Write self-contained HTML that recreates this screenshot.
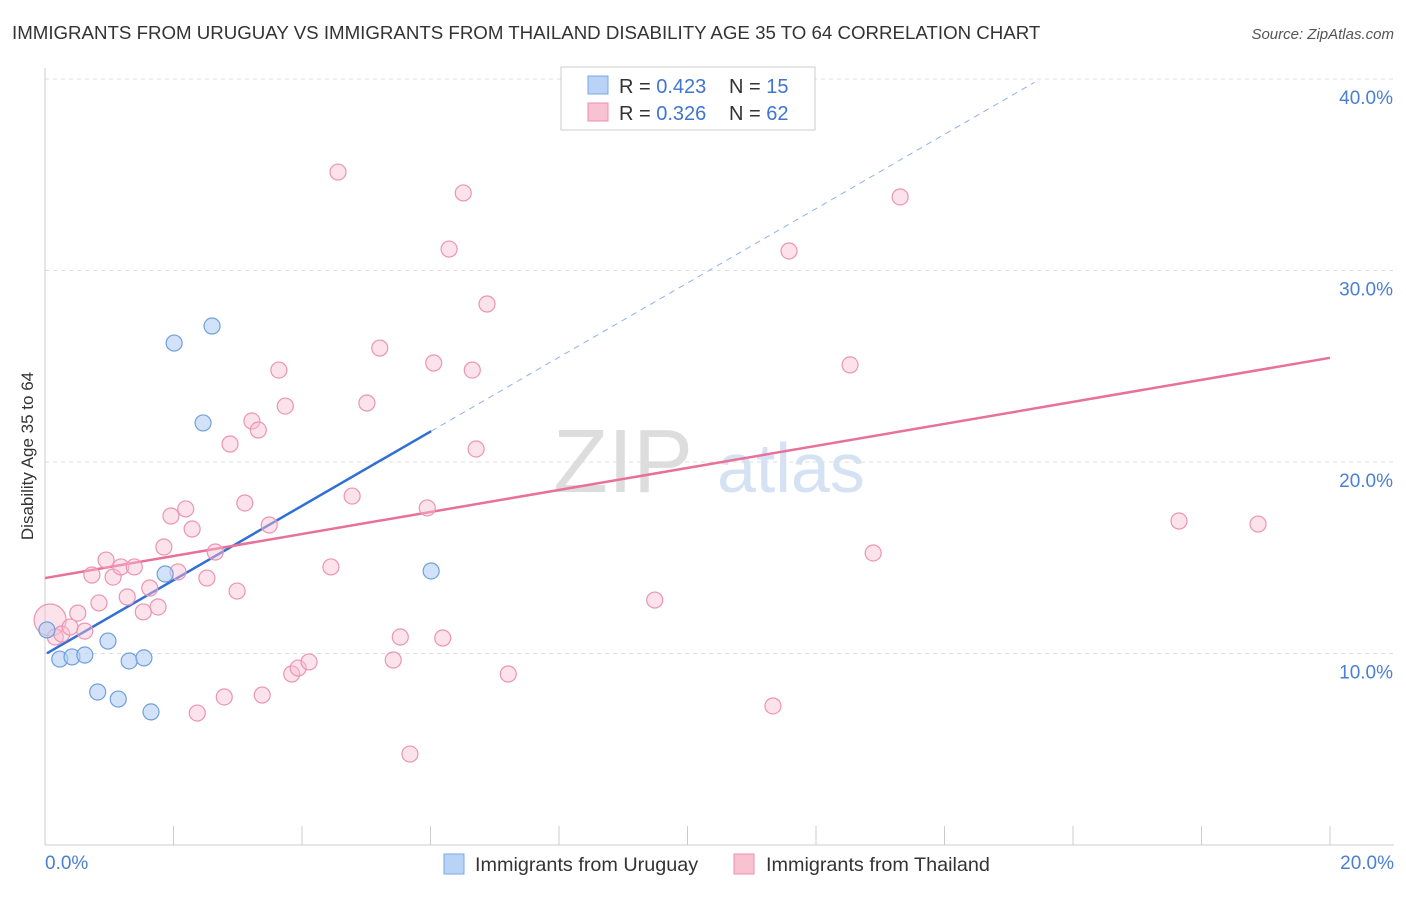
<!DOCTYPE html>
<html><head><meta charset="utf-8"><style>
body{margin:0;background:#fff;font-family:"Liberation Sans",sans-serif;}
svg text{font-family:"Liberation Sans",sans-serif;}
</style></head><body>
<svg id="chart" width="1406" height="892" xmlns="http://www.w3.org/2000/svg">
<text x="12" y="39" font-size="18.7" fill="#333">IMMIGRANTS FROM URUGUAY VS IMMIGRANTS FROM THAILAND DISABILITY AGE 35 TO 64 CORRELATION CHART</text>
<text x="1394" y="39" font-size="15" fill="#555" text-anchor="end" font-style="italic">Source: ZipAtlas.com</text>
<text transform="translate(33,456) rotate(-90)" font-size="17" fill="#333" text-anchor="middle">Disability Age 35 to 64</text>
<g font-size="90"><text x="553" y="492" fill="#ddd" font-family="Liberation Serif">ZIP</text><text x="717" y="492" fill="#d5e2f3" font-size="70">atlas</text></g>
<g id="grid"></g><g id="axes"></g><g id="lines"></g><g id="points"></g>
<g>
<rect x="561" y="67" width="254" height="63" fill="#fff" stroke="#ccc"/>
<rect x="588" y="76" width="20" height="18" fill="#b8d3f5" stroke="#7aa7e3"/>
<rect x="588" y="103" width="20" height="18" fill="#f8c2d3" stroke="#ec8fad"/>
<text x="619" y="93" font-size="20" fill="#333">R = <tspan fill="#3f75d0">0.423</tspan></text>
<text x="729" y="93" font-size="20" fill="#333">N = <tspan fill="#3f75d0">15</tspan></text>
<text x="619" y="120" font-size="20" fill="#333">R = <tspan fill="#3f75d0">0.326</tspan></text>
<text x="729" y="120" font-size="20" fill="#333">N = <tspan fill="#3f75d0">62</tspan></text>
</g>
<g>
<rect x="444" y="854" width="20" height="20" fill="#b8d3f5" stroke="#7aa7e3"/>
<text x="475" y="871" font-size="19.8" fill="#333">Immigrants from Uruguay</text>
<rect x="734" y="854" width="20" height="20" fill="#f8c2d3" stroke="#ec8fad"/>
<text x="766" y="871" font-size="19.8" fill="#333">Immigrants from Thailand</text>
</g>
</svg>
<script>
const uruguayX=[0.03,0.23,0.42,0.62,0.82,0.98,1.14,1.31,1.54,1.65,1.87,2.01,2.46,2.60,6.01];
const uruguayY=[11.23,9.71,9.82,9.92,7.99,10.65,7.62,9.61,9.77,6.95,14.15,26.21,22.04,27.1,14.31];
const thailandX=[0.08,0.16,0.26,0.39,0.51,0.62,0.73,0.84,0.95,1.06,1.18,1.28,1.39,1.53,1.63,1.76,1.85,1.96,2.07,2.19,2.29,2.52,2.65,2.79,2.88,2.99,3.11,3.22,3.32,3.38,3.49,3.64,3.74,3.84,3.94,4.11,4.45,4.56,4.78,5.01,5.21,5.42,5.53,5.68,5.95,6.05,6.19,6.29,6.51,6.65,6.71,6.88,7.21,9.49,11.33,11.58,12.53,12.89,13.31,17.65,18.88,2.37];
const thailandY=[11.75,10.86,11.02,11.38,12.11,11.17,14.10,12.64,14.88,13.99,14.52,12.95,14.52,12.17,13.42,12.43,15.56,17.18,14.26,17.55,16.50,13.94,15.30,7.73,20.94,13.26,17.86,22.14,21.67,7.83,16.71,24.80,22.92,8.93,9.24,9.56,14.52,35.14,18.22,23.08,25.95,9.66,10.86,4.75,17.60,25.17,10.81,31.12,34.05,24.80,20.68,28.25,8.93,12.79,7.26,31.02,25.07,15.25,33.84,16.92,16.76,6.89];
const yTicks=[10,20,30,40];
const yTickLabels=["10.0%","20.0%","30.0%","40.0%"];
const xTicks=[0,2,4,6,8,10,12,14,16,18,20];
const uruguayFit=[9.95,1.94];
const thailandFit=[13.94,0.575];
const X=v=>45+v*64.25, Y=v=>845-v*19.15;
const NS="http://www.w3.org/2000/svg";
function mk(p,t,a){const e=document.createElementNS(NS,t);for(const k in a)e.setAttribute(k,a[k]);document.getElementById(p).appendChild(e);return e;}
yTicks.forEach((t,i)=>{
 const l=mk('grid','line',{x1:45,x2:1394,y1:Y(t),y2:Y(t),stroke:'#ddd','stroke-dasharray':'4,4'});
 
 
 const tx=mk('axes','text',{x:1393,y:Y(t)+25,'font-size':19,fill:'#4a7fd4','text-anchor':'end'});
 tx.textContent=yTickLabels[i];
 
 
});
const ax=mk('axes','line',{x1:45,x2:45,y1:68,y2:845,stroke:'#ccc'});


const bx=mk('axes','line',{x1:45,x2:1394,y1:845,y2:845,stroke:'#ccc'});


xTicks.forEach(t=>{const l=mk('axes','line',{x1:X(t),x2:X(t),y1:826,y2:845,stroke:'#ccc'});
 
 });
const x0=mk('axes','text',{x:45,y:869,'font-size':19,fill:'#4a7fd4'});x0.textContent='0.0%';


const x1=mk('axes','text',{x:1394,y:869,'font-size':19,fill:'#4a7fd4','text-anchor':'end'});x1.textContent='20.0%';


const f=(fit,x)=>fit[0]+fit[1]*x;
let l=mk('lines','line',{x1:X(6.01),y1:Y(f(uruguayFit,6.01)),x2:X(15.4),y2:Y(f(uruguayFit,15.4)),stroke:'#8fb3e6','stroke-dasharray':'6,5'});


l=mk('lines','line',{x1:X(0.03),y1:Y(f(uruguayFit,0.03)),x2:X(6.01),y2:Y(f(uruguayFit,6.01)),stroke:'#2f6fd6','stroke-width':2.5});


l=mk('lines','line',{x1:X(0),y1:Y(f(thailandFit,0)),x2:X(20),y2:Y(f(thailandFit,20)),stroke:'#e8709a','stroke-width':2.5});


thailandX.forEach((x,i)=>{const c=mk('points','circle',{cx:X(x),cy:Y(thailandY[i]),r:i==0?16:8,fill:'rgba(248,190,210,0.45)',stroke:'#ec94b2','stroke-width':1.2});
 
 });
uruguayX.forEach((x,i)=>{const c=mk('points','circle',{cx:X(x),cy:Y(uruguayY[i]),r:8,fill:'rgba(180,208,245,0.6)',stroke:'#6f9fdc','stroke-width':1.2});
 
 });
</script>
</body></html>
